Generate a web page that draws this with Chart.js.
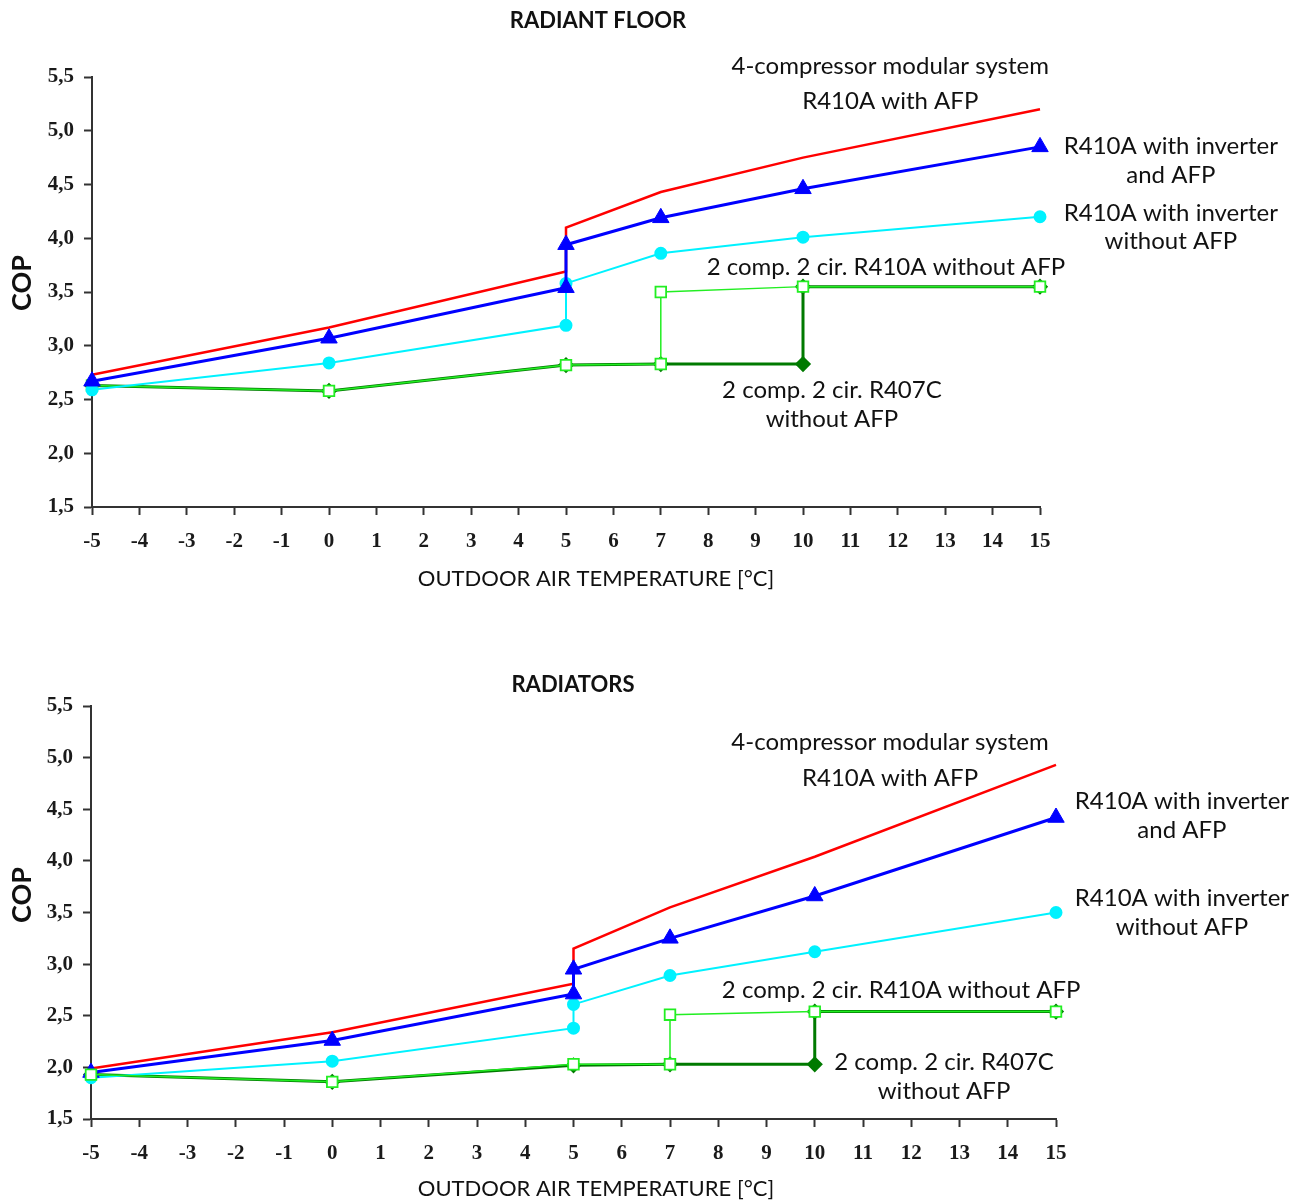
<!DOCTYPE html>
<html>
<head>
<meta charset="utf-8">
<script src="https://cdn.jsdelivr.net/npm/chart.js@4.4.1/dist/chart.umd.min.js"></script>
<style>
  body { margin: 0; background: #fff; }
  canvas { display: block; }
</style>
</head>
<body>
<canvas id="floorChart" width="1304" height="600"></canvas>
<canvas id="radiatorChart" width="1304" height="602"></canvas>
<script>
// outdoor air temperature (°C) for each series
const tempsInverter = [-5, 0, 5, 5, 7, 10, 15];
const tempsR410A = [-5, 0, 5, 7, 7, 10, 15];
const tempsR407C = [-5, 0, 5, 7, 10, 10, 15];

// RADIANT FLOOR - COP
const floorModular = [2.73, 3.17, 3.69, 4.10, 4.43, 4.75, 5.20];
const floorInvAfp = [2.67, 3.07, 3.54, 3.94, 4.19, 4.46, 4.85];
const floorInvNoAfp = [2.59, 2.84, 3.19, 3.58, 3.86, 4.01, 4.20];
const floorR410A = [2.63, 2.58, 2.82, 2.83, 3.50, 3.55, 3.55];
const floorR407C = [2.63, 2.58, 2.82, 2.83, 2.83, 3.55, 3.55];

// RADIATORS - COP
const radModular = [1.99, 2.34, 2.81, 3.15, 3.55, 4.04, 4.93];
const radInvAfp = [1.95, 2.26, 2.71, 2.95, 3.25, 3.66, 4.42];
const radInvNoAfp = [1.90, 2.06, 2.38, 2.61, 2.89, 3.12, 3.50];
const radR410A = [1.93, 1.86, 2.03, 2.03, 2.51, 2.54, 2.54];
const radR407C = [1.93, 1.86, 2.02, 2.03, 2.03, 2.54, 2.54];

// axis ranges
const xRange = [-5, 15];
const xStep = 1;
const yRange = [1.5, 5.5];
const yStep = 0.5;

const seriesNames = [
  "4-compressor modular system R410A with AFP",
  "R410A with inverter and AFP",
  "R410A with inverter without AFP",
  "2 comp. 2 cir. R410A without AFP",
  "2 comp. 2 cir. R407C without AFP",
];

// labels next to the curves, placed in data units
const floorNotes = [
  { text: "4-compressor modular system", x: 11.84, y: 5.60 },
  { text: "R410A with AFP", x: 11.84, y: 5.27 },
  { text: "R410A with inverter", x: 17.76, y: 4.86 },
  { text: "and AFP", x: 17.76, y: 4.59 },
  { text: "R410A with inverter", x: 17.76, y: 4.23 },
  { text: "without AFP", x: 17.76, y: 3.97 },
  { text: "2 comp. 2 cir. R410A without AFP", x: 11.75, y: 3.73 },
  { text: "2 comp. 2 cir. R407C", x: 10.61, y: 2.59 },
  { text: "without AFP", x: 10.61, y: 2.32 },
];
const radNotes = [
  { text: "4-compressor modular system", x: 11.56, y: 5.15 },
  { text: "R410A with AFP", x: 11.56, y: 4.80 },
  { text: "R410A with inverter", x: 17.61, y: 4.58 },
  { text: "and AFP", x: 17.61, y: 4.30 },
  { text: "R410A with inverter", x: 17.61, y: 3.64 },
  { text: "without AFP", x: 17.61, y: 3.36 },
  { text: "2 comp. 2 cir. R410A without AFP", x: 11.79, y: 2.75 },
  { text: "2 comp. 2 cir. R407C", x: 12.68, y: 2.05 },
  { text: "without AFP", x: 12.68, y: 1.77 },
];

function toPoints(xs, ys) {
  return xs.map((x, i) => ({ x: x, y: ys[i] }));
}

function textPlugin(title, notes, pos) {
  return {
    id: "chartText",
    afterDraw(chart) {
      const ctx = chart.ctx;
      const sx = chart.scales.x;
      const sy = chart.scales.y;
      ctx.save();
      ctx.fillStyle = "#111";
      ctx.textAlign = "center";
      ctx.textBaseline = "middle";
      ctx.font = "24px Lato";
      notes.forEach((n) => {
        ctx.fillText(n.text, sx.getPixelForValue(n.x), sy.getPixelForValue(n.y));
      });
      ctx.font = "bold 22px Lato";
      ctx.fillText(title, pos.title[0], pos.title[1]);
      ctx.font = "22px Lato";
      ctx.fillText("OUTDOOR AIR TEMPERATURE [°C]", pos.xTitle[0], pos.xTitle[1]);
      ctx.translate(pos.yTitle[0], pos.yTitle[1]);
      ctx.rotate(-Math.PI / 2);
      ctx.font = "bold 27px Lato";
      ctx.fillText("COP", 0, 0);
      ctx.restore();
    },
  };
}

function makeChart(canvasId, series, orders, title, notes, pos) {
  const datasets = [
    {
      label: seriesNames[0],
      data: toPoints(tempsInverter, series[0]),
      borderColor: "#ff0000",
      borderWidth: 2.5,
      pointRadius: 0,
      order: orders[0],
    },
    {
      label: seriesNames[1],
      data: toPoints(tempsInverter, series[1]),
      borderColor: "#0000ff",
      backgroundColor: "#0000ff",
      borderWidth: 3,
      pointStyle: "triangle",
      pointRadius: 9.5,
      pointBorderWidth: 1,
      order: orders[1],
    },
    {
      label: seriesNames[2],
      data: toPoints(tempsInverter, series[2]),
      borderColor: "#00f2ff",
      backgroundColor: "#00f2ff",
      borderWidth: 2,
      pointStyle: "circle",
      pointRadius: 5.5,
      order: orders[2],
    },
    {
      label: seriesNames[3],
      data: toPoints(tempsR410A, series[3]),
      borderColor: "#22ee22",
      backgroundColor: "#ffffff",
      borderWidth: 1.5,
      pointStyle: "rect",
      pointRadius: 7.5,
      pointBorderWidth: 1.8,
      order: orders[3],
    },
    {
      label: seriesNames[4],
      data: toPoints(tempsR407C, series[4]),
      borderColor: "#007a00",
      backgroundColor: "#007a00",
      borderWidth: 3,
      pointStyle: "rectRot",
      pointRadius: 6,
      order: orders[4],
    },
  ];

  return new Chart(document.getElementById(canvasId), {
    type: "line",
    data: { datasets: datasets },
    options: {
      responsive: false,
      animation: false,
      events: [],
      clip: false,
      datasets: { line: { tension: 0, clip: false } },
      layout: { padding: pos.padding },
      plugins: {
        legend: { display: false },
        tooltip: { enabled: false },
      },
      scales: {
        x: {
          type: "linear",
          min: xRange[0],
          max: xRange[1],
          afterFit: (s) => { s.height = pos.xHeight; },
          border: { color: "#333", width: 2 },
          grid: { drawOnChartArea: false, tickLength: 8, tickColor: "#333", tickWidth: 2 },
          ticks: {
            stepSize: xStep,
            padding: 14,
            color: "#1a1a1a",
            font: { family: "Liberation Serif", size: 21, weight: "bold" },
          },
        },
        y: {
          type: "linear",
          min: yRange[0],
          max: yRange[1],
          afterFit: (s) => { s.width = pos.yWidth; },
          border: { color: "#333", width: 2 },
          grid: { drawOnChartArea: false, tickLength: 8, tickColor: "#333", tickWidth: 2 },
          ticks: {
            stepSize: yStep,
            padding: 10,
            color: "#1a1a1a",
            font: { family: "Liberation Serif", size: 21, weight: "bold" },
            callback: (v) => v.toFixed(1).replace(".", ","),
          },
        },
      },
    },
    plugins: [textPlugin(title, notes, pos)],
  });
}

makeChart(
  "floorChart",
  [floorModular, floorInvAfp, floorInvNoAfp, floorR410A, floorR407C],
  [3, 1, 2, 4, 5],
  "RADIANT FLOOR",
  floorNotes,
  {
    padding: { left: 0, right: 264, top: 77, bottom: 0 },
    xHeight: 93,
    yWidth: 92,
    title: [598, 21],
    xTitle: [596, 579],
    yTitle: [22, 283],
  }
);

makeChart(
  "radiatorChart",
  [radModular, radInvAfp, radInvNoAfp, radR410A, radR407C],
  [4, 2, 3, 1, 5],
  "RADIATORS",
  radNotes,
  {
    padding: { left: 0, right: 248, top: 106, bottom: 0 },
    xHeight: 83,
    yWidth: 91,
    title: [573, 85],
    xTitle: [596, 589],
    yTitle: [22, 295],
  }
);
</script>
</body>
</html>
